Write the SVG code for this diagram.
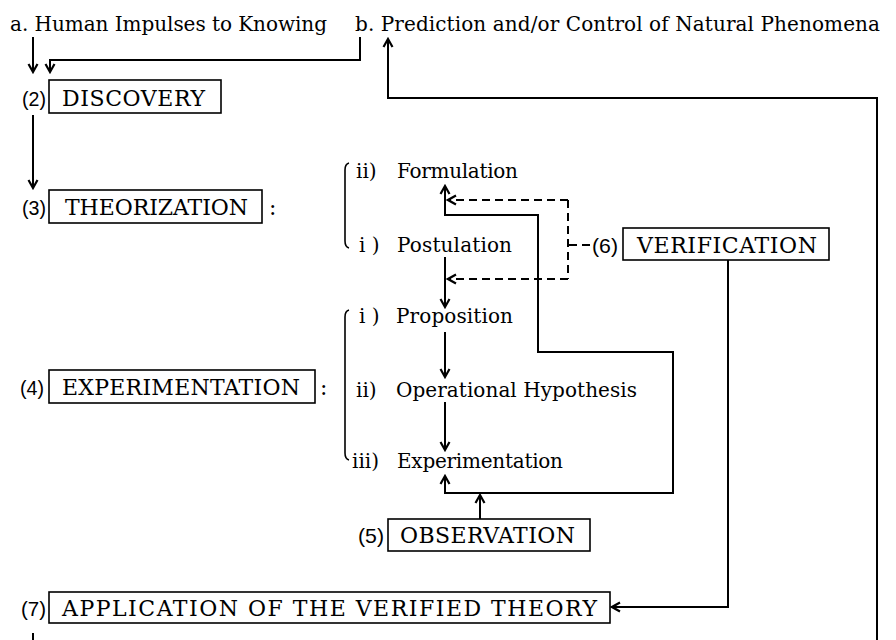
<svg xmlns="http://www.w3.org/2000/svg" width="896" height="640" viewBox="0 0 896 640">
<style>
text{font-family:"DejaVu Serif","Liberation Serif",serif;fill:#000;}
.hd{font-size:20px;}
.bx{font-size:22px;}
.it{font-size:20px;}
.lb{font-family:"Liberation Sans",Arial,sans-serif;font-size:21px;}
.box{fill:none;stroke:#000;stroke-width:1.6;}
.ln{fill:none;stroke:#000;stroke-width:2;}
.ds{fill:none;stroke:#000;stroke-width:2;stroke-dasharray:8 5;}
.br{fill:none;stroke:#000;stroke-width:1.6;}
</style>
<defs>
<marker id="ah" viewBox="-10 -6 12 12" refX="0" refY="0" markerWidth="12" markerHeight="12" markerUnits="userSpaceOnUse" orient="auto">
<path d="M-8,-4.5 L0,0 L-8,4.5" fill="none" stroke="#000" stroke-width="2.2" stroke-dasharray="none"/>
</marker>
</defs>
<rect width="896" height="640" fill="#fff"/>

<g id="head-a"><text class="hd" x="10" y="31" textLength="317">a. Human Impulses to Knowing</text></g>
<g id="head-b"><text class="hd" x="355" y="31" textLength="525">b. Prediction and/or Control of Natural Phenomena</text></g>

<g id="discovery">
<text class="lb" x="22" y="106" textLength="24" lengthAdjust="spacingAndGlyphs">(2)</text>
<rect class="box" x="49" y="80" width="172" height="33"/>
<text class="bx" x="62" y="106" textLength="143">DISCOVERY</text>
</g>

<g id="theorization">
<text class="lb" x="22" y="215" textLength="24" lengthAdjust="spacingAndGlyphs">(3)</text>
<rect class="box" x="49" y="190" width="213" height="33"/>
<text class="bx" x="65" y="215" textLength="183">THEORIZATION</text>
<text class="bx" x="269" y="215">:</text>
<path class="br" d="M349,163 Q345,164 345,170 L345,241 Q345,247 349,248"/>
<text class="it" x="356" y="178">ii)</text>
<text class="it" x="397" y="178" textLength="121">Formulation</text>
<text class="it" x="359" y="252">i )</text>
<text class="it" x="397" y="252" textLength="115">Postulation</text>
</g>

<g id="experimentation">
<text class="lb" x="20" y="395" textLength="24" lengthAdjust="spacingAndGlyphs">(4)</text>
<rect class="box" x="49" y="370" width="266" height="33"/>
<text class="bx" x="62" y="395" textLength="238">EXPERIMENTATION</text>
<text class="bx" x="320" y="395">:</text>
<path class="br" d="M349,310 Q345,311 345,317 L345,453 Q345,459 349,460"/>
<text class="it" x="359" y="323">i )</text>
<text class="it" x="396" y="323" textLength="117">Proposition</text>
<text class="it" x="356" y="397">ii)</text>
<text class="it" x="396" y="397" textLength="241">Operational Hypothesis</text>
<text class="it" x="352" y="468">iii)</text>
<text class="it" x="397" y="468" textLength="166">Experimentation</text>
</g>

<g id="verification">
<text class="lb" x="592" y="253" textLength="26" lengthAdjust="spacingAndGlyphs">(6)</text>
<rect class="box" x="623" y="228" width="206" height="32"/>
<text class="bx" x="637" y="253" textLength="180">VERIFICATION</text>
</g>

<g id="observation">
<text class="lb" x="358" y="543" textLength="26" lengthAdjust="spacingAndGlyphs">(5)</text>
<rect class="box" x="388" y="519" width="202" height="32"/>
<text class="bx" x="400" y="543" textLength="175">OBSERVATION</text>
</g>

<g id="application">
<text class="lb" x="21" y="616" textLength="25" lengthAdjust="spacingAndGlyphs">(7)</text>
<rect class="box" x="49" y="592" width="561" height="31"/>
<text class="bx" x="62" y="616" textLength="535">APPLICATION OF THE VERIFIED THEORY</text>
</g>

<g id="connectors">
<path class="ln" d="M33,37 L33,72" marker-end="url(#ah)"/>
<path class="ln" d="M360,37 L360,60 L50,60 L50,72" marker-end="url(#ah)"/>
<path class="ln" d="M33,115 L33,188" marker-end="url(#ah)"/>
<path class="ln" d="M445,257 L445,307" marker-end="url(#ah)"/>
<path class="ln" d="M445,332 L445,377" marker-end="url(#ah)"/>
<path class="ln" d="M445,402 L445,450" marker-end="url(#ah)"/>
<path class="ln" d="M445,493 L673,493 L673,352 L538,352 L538,215 L445,215 L445,186" marker-end="url(#ah)"/>
<path class="ln" d="M445,494 L445,476" marker-end="url(#ah)"/>
<path class="ln" d="M480,519 L480,495" marker-end="url(#ah)"/>
<path class="ds" d="M590,245 L568,245"/>
<path class="ds" d="M568,200 L568,279"/>
<path class="ds" d="M568,200 L448,200" marker-end="url(#ah)"/>
<path class="ds" d="M568,279 L448,279" marker-end="url(#ah)"/>
<path class="ln" d="M728,260 L728,607 L612,607" marker-end="url(#ah)"/>
<path class="ln" d="M877,640 L877,98 L388,98 L388,39" marker-end="url(#ah)"/>
<path class="ln" d="M33,633 L33,640"/>
</g>
</svg>
